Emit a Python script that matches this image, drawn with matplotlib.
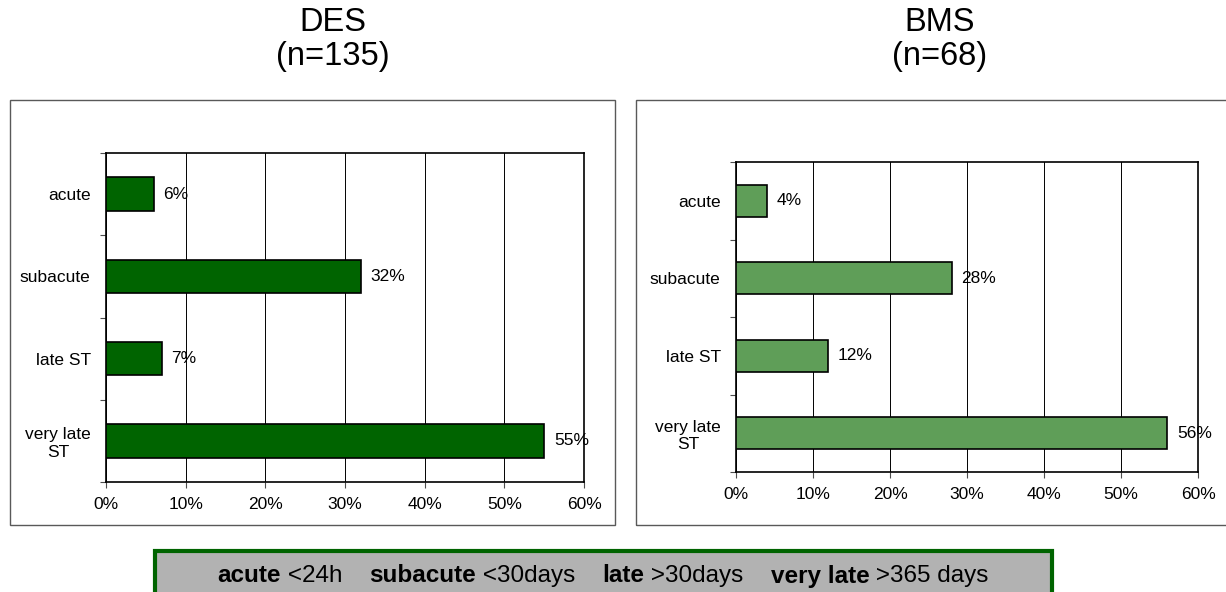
import matplotlib
matplotlib.use('Agg')
import matplotlib.pyplot as plt
from matplotlib.patches import Rectangle
from matplotlib.ticker import FuncFormatter, MultipleLocator

plt.rcParams['font.family'] = ['Liberation Sans', 'DejaVu Sans']

CATEGORIES = ['acute', 'subacute', 'late ST', 'very late\nST']
DES_PCT = [6, 32, 7, 55]
BMS_PCT = [4, 28, 12, 56]
TITLES = ['DES\n(n=135)', 'BMS\n(n=68)']
DES_COLOR = '#006400'
BMS_COLOR = '#5f9e58'
LEGEND = [('acute', True), (' <24h    ', False), ('subacute', True), (' <30days    ', False),
          ('late', True), (' >30days    ', False), ('very late', True), (' >365 days', False)]

W, H = 1226, 592
fig = plt.figure(figsize=(W / 100, H / 100), dpi=100)


def fx(px):
    return px / W


def fy(py):
    return 1 - py / H


def draw_panel(rect, box, vals, color, title, title_x):
    # outer panel frame
    bx0, by0, bx1, by1 = box
    fig.patches.append(Rectangle((fx(bx0), fy(by1)), fx(bx1 - bx0), (by1 - by0) / H,
                                 transform=fig.transFigure, fill=False, ec='0.35', lw=1.0))
    x0, y0, x1, y1 = rect
    ax = fig.add_axes([fx(x0), fy(y1), fx(x1 - x0), (y1 - y0) / H])
    pos = range(len(CATEGORIES))
    ax.barh(pos, vals, height=0.41, color=color, ec='black', lw=1.2, zorder=3)
    for p, v in zip(pos, vals):
        ax.annotate('%d%%' % v, (v, p), xytext=(7, 0), textcoords='offset points',
                    va='center', ha='left', fontsize=12.5, zorder=4)
    ax.set_xlim(0, 60)
    ax.set_ylim(len(CATEGORIES) - 0.5, -0.5)
    ax.xaxis.set_major_locator(MultipleLocator(10))
    ax.xaxis.set_major_formatter(FuncFormatter(lambda v, _: '%d%%' % v))
    ax.set_yticks(list(pos))
    ax.set_yticklabels(CATEGORIES, multialignment='center')
    ax.set_yticks([i - 0.5 for i in range(len(CATEGORIES) + 1)], minor=True)
    ax.tick_params(axis='y', which='major', length=0, pad=11, labelsize=12.5)
    ax.tick_params(axis='y', which='minor', length=4, width=0.8, color='0.3')
    ax.tick_params(axis='x', length=4, width=0.8, color='0.3', pad=7, labelsize=12.5)
    ax.grid(axis='x', color='black', lw=0.7, zorder=0)
    for s in ax.spines.values():
        s.set_linewidth(1.2)
        s.set_color('black')
    fig.text(fx(title_x), fy(7), title, ha='center', va='top', fontsize=23.5, linespacing=1.12)
    return ax


draw_panel((106, 153, 584, 482), (10, 100, 615, 525), DES_PCT, DES_COLOR, TITLES[0], 333)
draw_panel((736, 162, 1198, 472), (636, 100, 1240, 525), BMS_PCT, BMS_COLOR, TITLES[1], 940)

# definitions box at the bottom
fig.patches.append(Rectangle((fx(155), fy(600)), fx(1052 - 155), 49 / H,
                             transform=fig.transFigure, fc='#b2b2b2', ec=DES_COLOR, lw=3))
narrow = ['Liberation Sans Narrow', 'Liberation Sans', 'DejaVu Sans']
texts = [fig.text(0, fy(576), s, fontsize=17.5, fontweight='bold' if b else 'normal',
                  family=narrow, va='center', ha='left') for s, b in LEGEND]
r = fig.canvas.get_renderer()
widths = [t.get_window_extent(r).width for t in texts]
x = 603 - sum(widths) / 2
for t, w in zip(texts, widths):
    t.set_x(fx(x))
    x += w

fig.savefig('out.png', dpi=100, facecolor='white')
